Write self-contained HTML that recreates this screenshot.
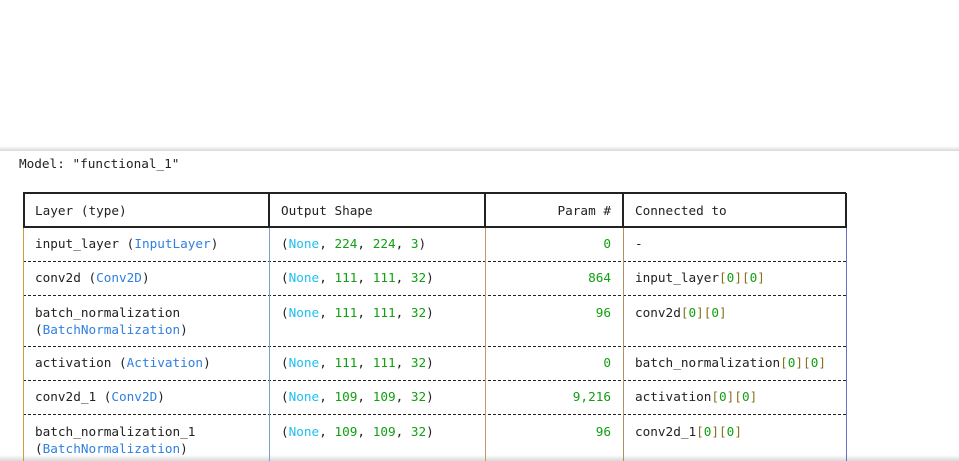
<!DOCTYPE html>
<html><head><meta charset="utf-8"><style>
html,body{margin:0;padding:0;background:#fff;width:959px;height:461px;overflow:hidden;position:relative;font-family:"DejaVu Sans Mono","Liberation Mono",monospace;font-size:12.7px;color:#222}
.sh{position:absolute;left:0;width:959px}
.t{position:absolute;white-space:pre;line-height:17px}
.h{position:absolute;height:0;border-top:1px dashed #222}
.v{position:absolute;width:0}
.b{color:#2f7fe0}.c{color:#1ec0f0}.g{color:#10a010}.y{color:#8a7020}
</style></head><body>
<div class="sh" style="top:146px;height:5px;background:linear-gradient(#fff,#d8d8d8)"></div>
<div class="sh" style="top:455px;height:6px;background:linear-gradient(#fff,#d8d8d8)"></div>
<div class="t" style="left:19px;top:155px">Model: "functional_1"</div>

<div class="h" style="left:23px;width:823px;top:192px;border-top:2px solid #222"></div>
<div class="h" style="left:23px;width:823px;top:226px;border-top:2px solid #222"></div>
<div class="h" style="left:23px;width:823px;top:261px"></div>
<div class="h" style="left:23px;width:823px;top:295px"></div>
<div class="h" style="left:23px;width:823px;top:346px"></div>
<div class="h" style="left:23px;width:823px;top:380px"></div>
<div class="h" style="left:23px;width:823px;top:414px"></div>

<div class="v" style="left:23px;top:193px;height:35px;border-left:2px solid #222"></div>
<div class="v" style="left:268px;top:193px;height:35px;border-left:2px solid #222"></div>
<div class="v" style="left:484px;top:193px;height:35px;border-left:2px solid #222"></div>
<div class="v" style="left:622px;top:193px;height:35px;border-left:2px solid #222"></div>
<div class="v" style="left:845px;top:193px;height:35px;border-left:2px solid #222"></div>
<div class="v" style="left:23px;top:228px;height:233px;border-left:1px solid #d09a40"></div>
<div class="v" style="left:269px;top:228px;height:233px;border-left:1px solid #7a9fcf"></div>
<div class="v" style="left:485px;top:228px;height:233px;border-left:1px solid #c8946a"></div>
<div class="v" style="left:623px;top:228px;height:233px;border-left:1px solid #b09060"></div>
<div class="v" style="left:846px;top:228px;height:233px;border-left:1px solid #6a70c8"></div>

<div class="t" style="left:35px;top:202px">Layer (type)</div>
<div class="t" style="left:281px;top:202px">Output Shape</div>
<div class="t" style="right:348px;top:202px">Param #</div>
<div class="t" style="left:635px;top:202px">Connected to</div>

<div class="t" style="left:35px;top:235px">input_layer (<span class="b">InputLayer</span>)</div>
<div class="t" style="left:281px;top:235px">(<span class="c">None</span>, <span class="g">224</span>, <span class="g">224</span>, <span class="g">3</span>)</div>
<div class="t g" style="right:348px;top:235px">0</div>
<div class="t" style="left:635px;top:235px">-</div>

<div class="t" style="left:35px;top:269px">conv2d (<span class="b">Conv2D</span>)</div>
<div class="t" style="left:281px;top:269px">(<span class="c">None</span>, <span class="g">111</span>, <span class="g">111</span>, <span class="g">32</span>)</div>
<div class="t g" style="right:348px;top:269px">864</div>
<div class="t" style="left:635px;top:269px">input_layer<span class="y">[</span><span class="g">0</span><span class="y">][</span><span class="g">0</span><span class="y">]</span></div>

<div class="t" style="left:35px;top:304px">batch_normalization<br>(<span class="b">BatchNormalization</span>)</div>
<div class="t" style="left:281px;top:304px">(<span class="c">None</span>, <span class="g">111</span>, <span class="g">111</span>, <span class="g">32</span>)</div>
<div class="t g" style="right:348px;top:304px">96</div>
<div class="t" style="left:635px;top:304px">conv2d<span class="y">[</span><span class="g">0</span><span class="y">][</span><span class="g">0</span><span class="y">]</span></div>

<div class="t" style="left:35px;top:354px">activation (<span class="b">Activation</span>)</div>
<div class="t" style="left:281px;top:354px">(<span class="c">None</span>, <span class="g">111</span>, <span class="g">111</span>, <span class="g">32</span>)</div>
<div class="t g" style="right:348px;top:354px">0</div>
<div class="t" style="left:635px;top:354px">batch_normalization<span class="y">[</span><span class="g">0</span><span class="y">][</span><span class="g">0</span><span class="y">]</span></div>

<div class="t" style="left:35px;top:388px">conv2d_1 (<span class="b">Conv2D</span>)</div>
<div class="t" style="left:281px;top:388px">(<span class="c">None</span>, <span class="g">109</span>, <span class="g">109</span>, <span class="g">32</span>)</div>
<div class="t g" style="right:348px;top:388px">9,216</div>
<div class="t" style="left:635px;top:388px">activation<span class="y">[</span><span class="g">0</span><span class="y">][</span><span class="g">0</span><span class="y">]</span></div>

<div class="t" style="left:35px;top:423px">batch_normalization_1<br>(<span class="b">BatchNormalization</span>)</div>
<div class="t" style="left:281px;top:423px">(<span class="c">None</span>, <span class="g">109</span>, <span class="g">109</span>, <span class="g">32</span>)</div>
<div class="t g" style="right:348px;top:423px">96</div>
<div class="t" style="left:635px;top:423px">conv2d_1<span class="y">[</span><span class="g">0</span><span class="y">][</span><span class="g">0</span><span class="y">]</span></div>
</body></html>
